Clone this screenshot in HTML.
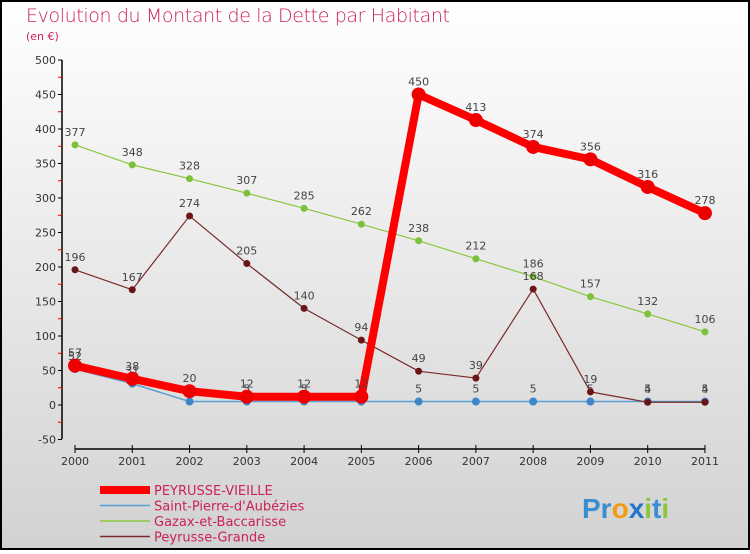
<!DOCTYPE html>
<html><head><meta charset="utf-8"><style>
body{margin:0;width:750px;height:550px;overflow:hidden;font-family:"DejaVu Sans","Liberation Sans",sans-serif}
</style></head><body>
<svg width="750" height="550" xmlns="http://www.w3.org/2000/svg" id="svg">
<defs><linearGradient id="bg" x1="0" y1="0" x2="0" y2="1"><stop offset="0" stop-color="#ffffff"/><stop offset="1" stop-color="#d2d2d2"/></linearGradient></defs>
<rect x="1" y="1" width="748" height="548" fill="url(#bg)" stroke="#000" stroke-width="2"/>
<text x="26" y="22" font-size="19" fill="#cc2255" font-weight="200" textLength="424">Evolution du Montant de la Dette par Habitant</text>
<text x="26" y="40" font-size="11" fill="#cc2255">(en €)</text>
<g id="axes"></g><g id="series"></g><g id="legend"></g>
<text x="582" y="518" font-size="28" font-weight="bold" fill="#3a8fd0" font-family="Liberation Sans, sans-serif">Pr<tspan fill="#f39c12">o</tspan><tspan fill="#2277cc">x</tspan><tspan fill="#8cc63f">i</tspan>t<tspan fill="#8cc63f">i</tspan></text>
</svg>
<script>
const years=['2000','2001','2002','2003','2004','2005','2006','2007','2008','2009','2010','2011'];
const yTicks=[-50,0,50,100,150,200,250,300,350,400,450,500];
const peyrusseVieille=[57,38,20,12,12,12,450,413,374,356,316,278];
const saintPierre=[52,31,5,5,5,5,5,5,5,5,5,5];
const gazax=[377,348,328,307,285,262,238,212,186,157,132,106];
const peyrusseGrande=[196,167,274,205,140,94,49,39,168,19,4,4];
const seriesNames=['PEYRUSSE-VIEILLE',"Saint-Pierre-d'Aubézies",'Gazax-et-Baccarisse','Peyrusse-Grande'];
const NS='http://www.w3.org/2000/svg';
const X=i=>75+i*57.27, Y=v=>405-v*0.69;
function el(t,a,p){const e=document.createElementNS(NS,t);for(const k in a)e.setAttribute(k,a[k]);p.appendChild(e);return e;}
const ax=document.getElementById('axes');
let l=el('line',{x1:62,y1:60,x2:62,y2:439,stroke:'#000','stroke-width':1.5},ax);

l=el('line',{x1:75,y1:449,x2:705,y2:449,stroke:'#000','stroke-width':1.5},ax);

yTicks.forEach((v,i)=>{
 el('line',{x1:58,y1:Y(v),x2:62,y2:Y(v),stroke:'#000'},ax);
 if(i<yTicks.length-1)el('line',{x1:58,y1:Y(v+25),x2:62,y2:Y(v+25),stroke:'#e00'},ax);
 const t=el('text',{x:56,y:Y(v)+4,'font-size':11,'text-anchor':'end',fill:'#333'},ax);t.textContent=v;
 
});
years.forEach((y,i)=>{
 el('line',{x1:X(i),y1:445,x2:X(i),y2:453,stroke:'#000'},ax);
 const t=el('text',{x:X(i),y:465,'font-size':11,'text-anchor':'middle',fill:'#333'},ax);t.textContent=y;
 
});
const sg=document.getElementById('series');
const defs=[[saintPierre,'#5a9fd4',1.5,4,'#3b87c8','series-saint-pierre'],[gazax,'#8cc63f',1.2,3.5,'#7bc13a','series-gazax'],[peyrusseGrande,'#7a2a2a',1.2,3.5,'#6a1515','series-peyrusse-grande'],[peyrusseVieille,'#ff0000',8,7,'#ee0000','series-peyrusse-vieille']];
defs.forEach(([d,c,w,r,fc,n])=>{
 const g=el('g',{},sg);
 el('polyline',{points:d.map((v,i)=>X(i)+','+Y(v)).join(' '),fill:'none',stroke:c,'stroke-width':w,'stroke-linejoin':'round'},g);
 d.forEach((v,i)=>{
  const p=el('circle',{cx:X(i),cy:Y(v),r:r,fill:fc},g);
  
  const t=el('text',{x:X(i),y:Y(v)-9,'font-size':11,'text-anchor':'middle',fill:'#444'},g);t.textContent=v;
 });
});
const lg=document.getElementById('legend');
const lc=[['#ff0000',8],['#5a9fd4',1.5],['#8cc63f',1.5],['#7a2a2a',1.5]];
seriesNames.forEach((s,i)=>{
 const y=490+i*15.5;
 const g=el('g',{},lg);
 el('line',{x1:100,y1:y,x2:150,y2:y,stroke:lc[i][0],'stroke-width':lc[i][1]},g);
 const t=el('text',{x:154,y:y+5,'font-size':13,fill:'#cc2255'},g);t.textContent=s;
});
</script>
</body></html>
